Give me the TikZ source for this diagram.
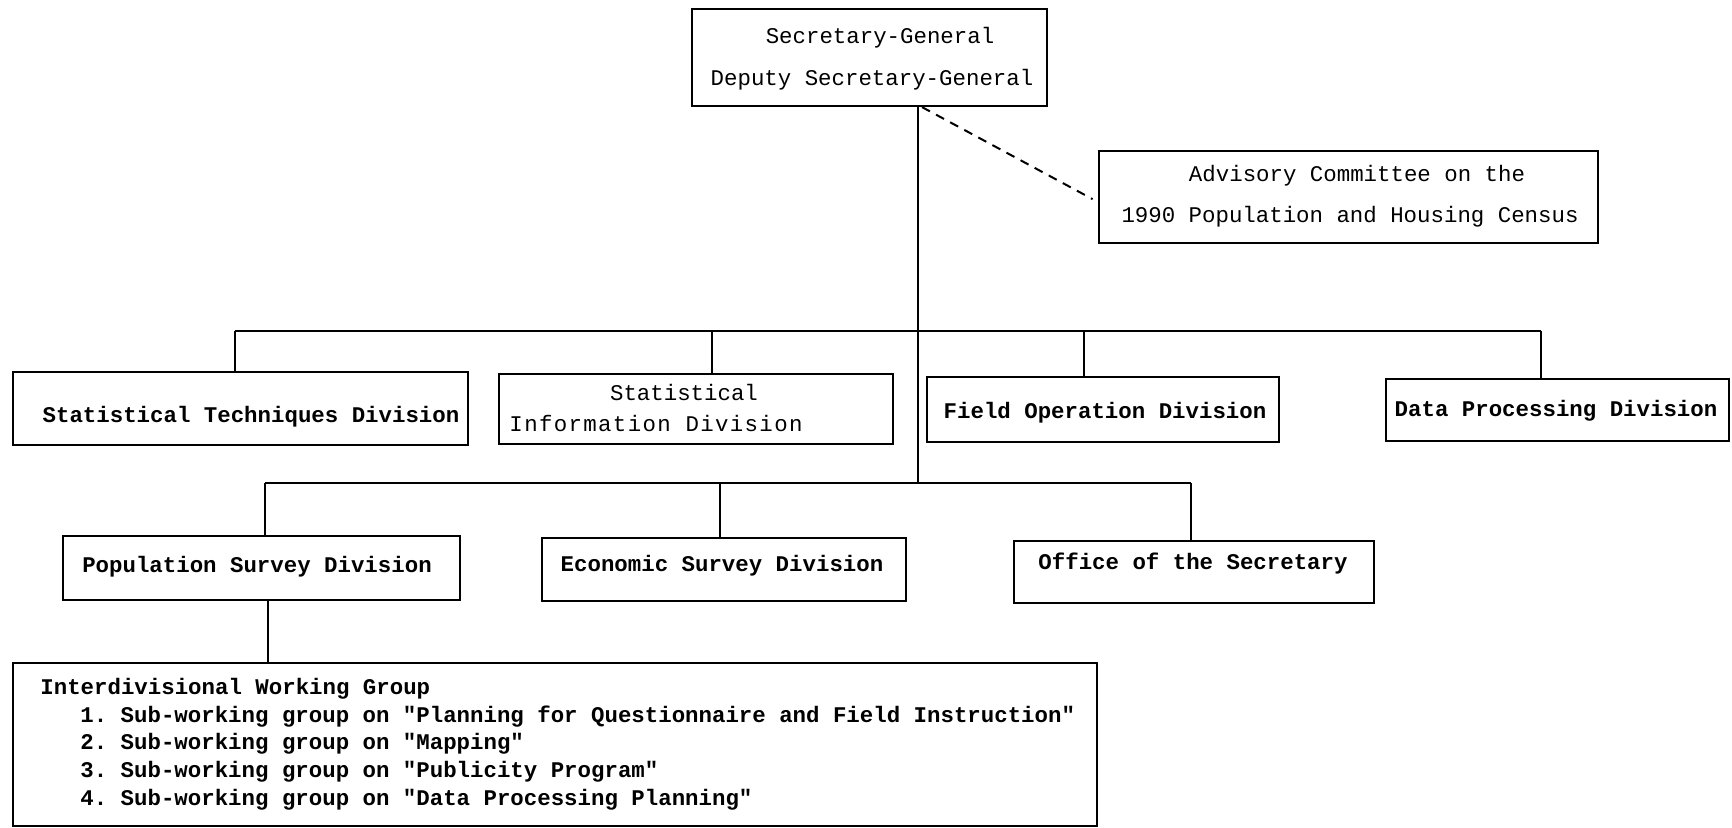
\documentclass[tikz,border=0pt]{standalone}
\usepackage{fontspec}
\setmonofont{Liberation Mono}
\usetikzlibrary{calc,fit}
\begin{document}
\begin{tikzpicture}[x=0.5pt,y=-0.5pt,
  unitbox/.style={draw, line width=1.1pt, rectangle, inner sep=0pt},
  lbl/.style={font=\ttfamily\bfseries\fontsize{11.2pt}{13.8pt}\selectfont, inner sep=0pt},
  lbllight/.style={font=\ttfamily\fontsize{11.2pt}{13.8pt}\selectfont, inner sep=0pt},
  link/.style={line width=1pt},
]
\useasboundingbox (0,0) rectangle (1732,828);

% boxes
\node[unitbox, fit={(692,9) (1047,106)}] (top) {};
\node[unitbox, fit={(1099,151) (1598,243)}] (adv) {};
\node[unitbox, fit={(13,372) (468,445)}] (std) {};
\node[unitbox, fit={(499,374) (893,444)}] (sid) {};
\node[unitbox, fit={(927,377) (1279,442)}] (fod) {};
\node[unitbox, fit={(1386,379) (1729,441)}] (dpd) {};
\node[unitbox, fit={(63,536) (460,600)}] (psd) {};
\node[unitbox, fit={(542,538) (906,601)}] (esd) {};
\node[unitbox, fit={(1014,541) (1374,603)}] (ots) {};
\node[unitbox, fit={(13,663) (1097,826)}] (iwg) {};

% labels
\node[lbllight] (topa) at (880,37.5) {Secretary-General};
\node[lbllight] (topb) at (872,79.5) {Deputy Secretary-General};
\node[lbllight] (adva) at (1357,175.5) {Advisory Committee on the};
\node[lbllight] (advb) at (1350,216.5) {1990 Population and Housing Census};
\node[lbl] (stdt) at (251,416.5) {Statistical Techniques Division};
\node[lbllight] (sida) at (684,392) {Statistical};
\node[lbllight, font=\ttfamily\fontsize{11.2pt}{13.8pt}\selectfont\addfontfeatures{LetterSpace=6}] (sidb) at (656,423) {Information Division};
\node[lbl] (fodt) at (1105,413) {Field Operation Division};
\node[lbl] (dpdt) at (1556,410.5) {Data Processing Division};
\node[lbl] (psdt) at (257,566.5) {Population Survey Division};
\node[lbl] (esdt) at (722,565.5) {Economic Survey Division};
\node[lbl] (otst) at (1193,563.5) {Office of the Secretary};
\node[lbl, anchor=base west] (iw0) at (40,694) {Interdivisional Working Group};
\node[lbl, anchor=base west] (iw1) at (80,722) {1. Sub-working group on "Planning for Questionnaire and Field Instruction"};
\node[lbl, anchor=base west] (iw2) at (80,749) {2. Sub-working group on "Mapping"};
\node[lbl, anchor=base west] (iw3) at (80,777) {3. Sub-working group on "Publicity Program"};
\node[lbl, anchor=base west] (iw4) at (80,805) {4. Sub-working group on "Data Processing Planning"};

% bus points
\coordinate (b1a) at (235,331);
\coordinate (b1b) at (712,331);
\coordinate (b1c) at (1084,331);
\coordinate (b1d) at (1541,331);
\coordinate (b1m) at (918,331);
\coordinate (b2a) at (265,483);
\coordinate (b2b) at (720,483);
\coordinate (b2c) at (1191,483);
\coordinate (b2m) at (918,483);

% trunk and advisory link
\draw[link] (top.south -| b1m) -- (b2m);
\draw[link, dash pattern=on 4.5pt off 3.5pt, shorten >=3pt]
  ([xshift=2pt]top.south -| b1m) -- ([yshift=-2.5pt]adv.west);

% upper row
\draw[link] (b1a) -- (b1d);
\draw[link] (b1a) -- (b1a |- std.north);
\draw[link] (b1b) -- (b1b |- sid.north);
\draw[link] (b1c) -- (b1c |- fod.north);
\draw[link] (b1d) -- (b1d |- dpd.north);

% lower row
\draw[link] (b2a) -- (b2c);
\draw[link] (b2a) -- (b2a |- psd.north);
\draw[link] (b2b) -- (b2b |- esd.north);
\draw[link] (b2c) -- (b2c |- ots.north);

% working group
\draw[link] ([xshift=3pt]psd.south) -- ([xshift=3pt]psd.south |- iwg.north);
\end{tikzpicture}
\end{document}
